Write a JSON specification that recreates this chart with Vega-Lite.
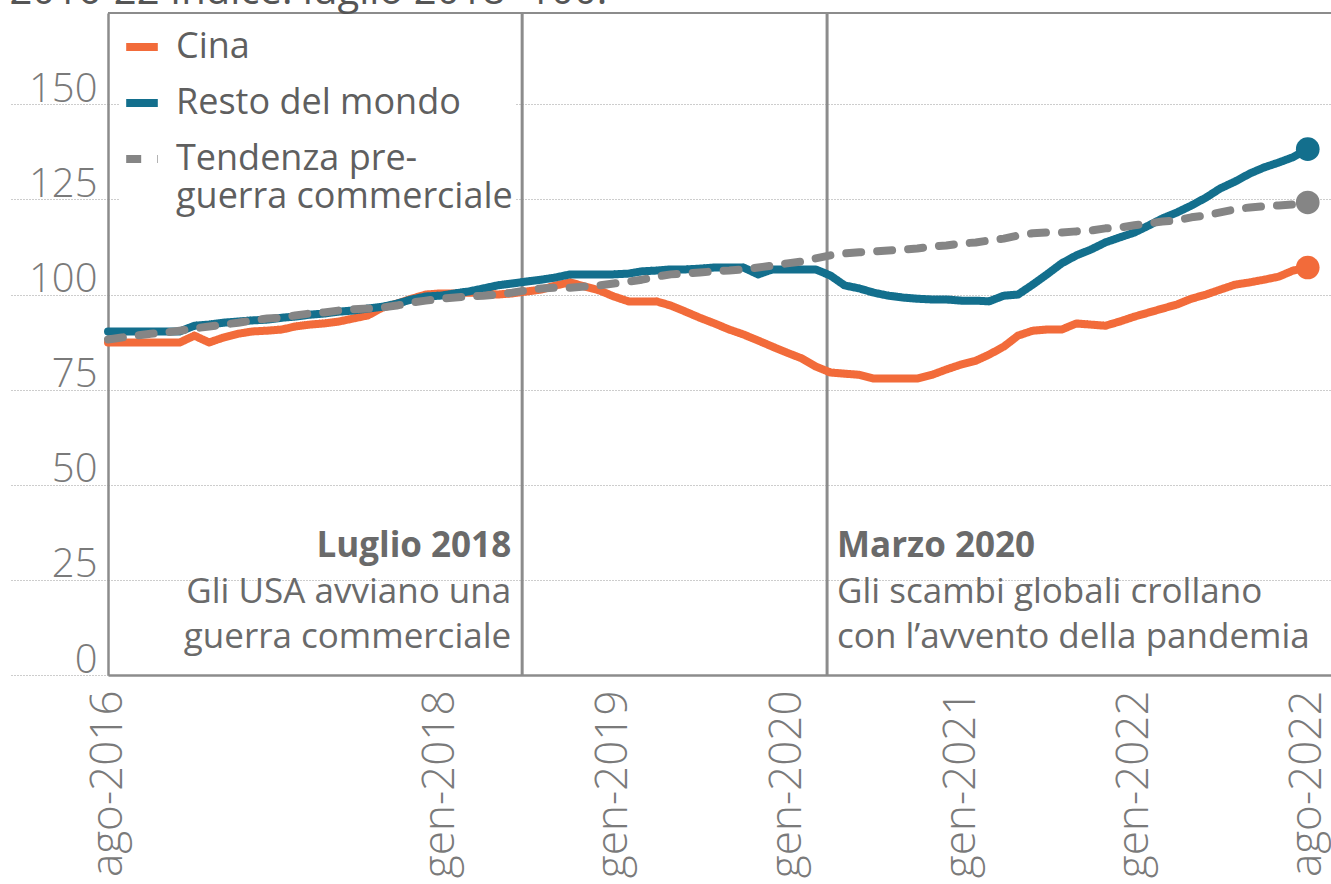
{
  "$schema": "https://vega.github.io/schema/vega-lite/v6.json",
  "width": 1223,
  "height": 662,
  "autosize": "none",
  "padding": {"left": 108, "top": 13, "right": 0, "bottom": 209},
  "background": "white",
  "title": {"text": "2016-22 Indice: luglio 2018=100.", "anchor": "start", "frame": "bounds", "fontSize": 40, "font": "Open Sans", "fontWeight": 400, "color": "#555555", "offset": 0, "dy": 40, "baseline": "bottom"},
  "config": {
    "font": "Open Sans",
    "view": {"stroke": null},
    "axis": {"labelFont": "Open Sans", "labelFontWeight": 300, "labelColor": "#7a7a7a", "labelFontSize": 40, "title": null, "labelLimit": 400}
  },
  "datasets": {
    "eventi": [
      {"d": "2018-06-22", "evento": "Luglio 2018", "testo": "Gli USA avviano una\nguerra commerciale"},
      {"d": "2020-03-25", "evento": "Marzo 2020", "testo": "Gli scambi globali crollano\ncon l’avvento della pandemia"}
    ],
    "serie": [
      {"d": "2016-02-01", "Cina": 87.4, "Resto del mondo": 90.3, "Tendenza pre-guerra commerciale": 88.2},
      {"d": "2016-03-01", "Cina": 87.4, "Resto del mondo": 90.3, "Tendenza pre-guerra commerciale": 88.7},
      {"d": "2016-04-01", "Cina": 87.4, "Resto del mondo": 90.3, "Tendenza pre-guerra commerciale": 89.2},
      {"d": "2016-05-01", "Cina": 87.4, "Resto del mondo": 90.3, "Tendenza pre-guerra commerciale": 89.7},
      {"d": "2016-06-01", "Cina": 87.4, "Resto del mondo": 90.3, "Tendenza pre-guerra commerciale": 90.0},
      {"d": "2016-07-01", "Cina": 87.4, "Resto del mondo": 90.3, "Tendenza pre-guerra commerciale": 90.5},
      {"d": "2016-08-01", "Cina": 89.2, "Resto del mondo": 91.8, "Tendenza pre-guerra commerciale": 91.1},
      {"d": "2016-09-01", "Cina": 87.4, "Resto del mondo": 92.1, "Tendenza pre-guerra commerciale": 91.6},
      {"d": "2016-10-01", "Cina": 88.7, "Resto del mondo": 92.6, "Tendenza pre-guerra commerciale": 92.1},
      {"d": "2016-11-01", "Cina": 89.7, "Resto del mondo": 92.9, "Tendenza pre-guerra commerciale": 92.6},
      {"d": "2016-12-01", "Cina": 90.3, "Resto del mondo": 93.2, "Tendenza pre-guerra commerciale": 93.2},
      {"d": "2017-01-01", "Cina": 90.5, "Resto del mondo": 93.4, "Tendenza pre-guerra commerciale": 93.7},
      {"d": "2017-02-01", "Cina": 90.8, "Resto del mondo": 93.9, "Tendenza pre-guerra commerciale": 93.9},
      {"d": "2017-03-01", "Cina": 91.6, "Resto del mondo": 94.2, "Tendenza pre-guerra commerciale": 94.5},
      {"d": "2017-04-01", "Cina": 92.1, "Resto del mondo": 94.7, "Tendenza pre-guerra commerciale": 95.0},
      {"d": "2017-05-01", "Cina": 92.4, "Resto del mondo": 95.0, "Tendenza pre-guerra commerciale": 95.3},
      {"d": "2017-06-01", "Cina": 92.9, "Resto del mondo": 95.5, "Tendenza pre-guerra commerciale": 95.8},
      {"d": "2017-07-01", "Cina": 93.7, "Resto del mondo": 95.8, "Tendenza pre-guerra commerciale": 96.1},
      {"d": "2017-08-01", "Cina": 94.5, "Resto del mondo": 96.3, "Tendenza pre-guerra commerciale": 96.3},
      {"d": "2017-09-01", "Cina": 96.6, "Resto del mondo": 96.8, "Tendenza pre-guerra commerciale": 96.6},
      {"d": "2017-10-01", "Cina": 97.6, "Resto del mondo": 97.6, "Tendenza pre-guerra commerciale": 97.1},
      {"d": "2017-11-01", "Cina": 98.9, "Resto del mondo": 98.7, "Tendenza pre-guerra commerciale": 97.9},
      {"d": "2017-12-01", "Cina": 100.0, "Resto del mondo": 99.5, "Tendenza pre-guerra commerciale": 98.4},
      {"d": "2018-01-01", "Cina": 100.3, "Resto del mondo": 99.7, "Tendenza pre-guerra commerciale": 98.9},
      {"d": "2018-02-01", "Cina": 100.3, "Resto del mondo": 100.3, "Tendenza pre-guerra commerciale": 99.2},
      {"d": "2018-03-01", "Cina": 100.5, "Resto del mondo": 100.8, "Tendenza pre-guerra commerciale": 99.5},
      {"d": "2018-04-01", "Cina": 100.3, "Resto del mondo": 101.6, "Tendenza pre-guerra commerciale": 99.7},
      {"d": "2018-05-01", "Cina": 100.0, "Resto del mondo": 102.4, "Tendenza pre-guerra commerciale": 100.0},
      {"d": "2018-06-01", "Cina": 100.3, "Resto del mondo": 102.9, "Tendenza pre-guerra commerciale": 100.5},
      {"d": "2018-07-01", "Cina": 100.8, "Resto del mondo": 103.4, "Tendenza pre-guerra commerciale": 101.1},
      {"d": "2018-08-01", "Cina": 101.3, "Resto del mondo": 103.9, "Tendenza pre-guerra commerciale": 101.6},
      {"d": "2018-09-01", "Cina": 102.4, "Resto del mondo": 104.5, "Tendenza pre-guerra commerciale": 101.8},
      {"d": "2018-10-01", "Cina": 103.2, "Resto del mondo": 105.3, "Tendenza pre-guerra commerciale": 101.8},
      {"d": "2018-11-01", "Cina": 102.1, "Resto del mondo": 105.3, "Tendenza pre-guerra commerciale": 102.1},
      {"d": "2018-12-01", "Cina": 101.1, "Resto del mondo": 105.3, "Tendenza pre-guerra commerciale": 102.4},
      {"d": "2019-01-01", "Cina": 99.5, "Resto del mondo": 105.3, "Tendenza pre-guerra commerciale": 102.9},
      {"d": "2019-02-01", "Cina": 98.2, "Resto del mondo": 105.5, "Tendenza pre-guerra commerciale": 103.4},
      {"d": "2019-03-01", "Cina": 98.2, "Resto del mondo": 106.1, "Tendenza pre-guerra commerciale": 103.9},
      {"d": "2019-04-01", "Cina": 98.2, "Resto del mondo": 106.3, "Tendenza pre-guerra commerciale": 104.7},
      {"d": "2019-05-01", "Cina": 97.1, "Resto del mondo": 106.6, "Tendenza pre-guerra commerciale": 105.3},
      {"d": "2019-06-01", "Cina": 95.5, "Resto del mondo": 106.6, "Tendenza pre-guerra commerciale": 105.5},
      {"d": "2019-07-01", "Cina": 93.9, "Resto del mondo": 106.8, "Tendenza pre-guerra commerciale": 105.8},
      {"d": "2019-08-01", "Cina": 92.4, "Resto del mondo": 107.1, "Tendenza pre-guerra commerciale": 106.1},
      {"d": "2019-09-01", "Cina": 90.8, "Resto del mondo": 107.1, "Tendenza pre-guerra commerciale": 106.3},
      {"d": "2019-10-01", "Cina": 89.5, "Resto del mondo": 107.1, "Tendenza pre-guerra commerciale": 106.6},
      {"d": "2019-11-01", "Cina": 87.9, "Resto del mondo": 105.3, "Tendenza pre-guerra commerciale": 107.1},
      {"d": "2019-12-01", "Cina": 86.3, "Resto del mondo": 106.6, "Tendenza pre-guerra commerciale": 107.6},
      {"d": "2020-01-01", "Cina": 84.7, "Resto del mondo": 106.6, "Tendenza pre-guerra commerciale": 108.2},
      {"d": "2020-02-01", "Cina": 83.2, "Resto del mondo": 106.6, "Tendenza pre-guerra commerciale": 108.7},
      {"d": "2020-03-01", "Cina": 81.1, "Resto del mondo": 106.6, "Tendenza pre-guerra commerciale": 109.5},
      {"d": "2020-04-01", "Cina": 79.5, "Resto del mondo": 105.0, "Tendenza pre-guerra commerciale": 110.3},
      {"d": "2020-05-01", "Cina": 79.2, "Resto del mondo": 102.4, "Tendenza pre-guerra commerciale": 110.8},
      {"d": "2020-06-01", "Cina": 78.9, "Resto del mondo": 101.6, "Tendenza pre-guerra commerciale": 111.1},
      {"d": "2020-07-01", "Cina": 77.9, "Resto del mondo": 100.5, "Tendenza pre-guerra commerciale": 111.3},
      {"d": "2020-08-01", "Cina": 77.9, "Resto del mondo": 99.7, "Tendenza pre-guerra commerciale": 111.6},
      {"d": "2020-09-01", "Cina": 77.9, "Resto del mondo": 99.2, "Tendenza pre-guerra commerciale": 111.8},
      {"d": "2020-10-01", "Cina": 77.9, "Resto del mondo": 98.9, "Tendenza pre-guerra commerciale": 112.1},
      {"d": "2020-11-01", "Cina": 78.9, "Resto del mondo": 98.7, "Tendenza pre-guerra commerciale": 112.6},
      {"d": "2020-12-01", "Cina": 80.3, "Resto del mondo": 98.7, "Tendenza pre-guerra commerciale": 112.9},
      {"d": "2021-01-01", "Cina": 81.6, "Resto del mondo": 98.4, "Tendenza pre-guerra commerciale": 113.4},
      {"d": "2021-02-01", "Cina": 82.6, "Resto del mondo": 98.4, "Tendenza pre-guerra commerciale": 113.7},
      {"d": "2021-03-01", "Cina": 84.2, "Resto del mondo": 98.2, "Tendenza pre-guerra commerciale": 114.2},
      {"d": "2021-04-01", "Cina": 86.3, "Resto del mondo": 99.7, "Tendenza pre-guerra commerciale": 114.7},
      {"d": "2021-05-01", "Cina": 89.2, "Resto del mondo": 100.0, "Tendenza pre-guerra commerciale": 115.5},
      {"d": "2021-06-01", "Cina": 90.5, "Resto del mondo": 102.6, "Tendenza pre-guerra commerciale": 116.1},
      {"d": "2021-07-01", "Cina": 90.8, "Resto del mondo": 105.3, "Tendenza pre-guerra commerciale": 116.3},
      {"d": "2021-08-01", "Cina": 90.8, "Resto del mondo": 108.2, "Tendenza pre-guerra commerciale": 116.3},
      {"d": "2021-09-01", "Cina": 92.4, "Resto del mondo": 110.3, "Tendenza pre-guerra commerciale": 116.6},
      {"d": "2021-10-01", "Cina": 92.1, "Resto del mondo": 111.8, "Tendenza pre-guerra commerciale": 116.8},
      {"d": "2021-11-01", "Cina": 91.8, "Resto del mondo": 113.7, "Tendenza pre-guerra commerciale": 117.4},
      {"d": "2021-12-01", "Cina": 92.9, "Resto del mondo": 115.0, "Tendenza pre-guerra commerciale": 117.6},
      {"d": "2022-01-01", "Cina": 94.2, "Resto del mondo": 116.3, "Tendenza pre-guerra commerciale": 118.2},
      {"d": "2022-02-01", "Cina": 95.3, "Resto del mondo": 118.2, "Tendenza pre-guerra commerciale": 118.7},
      {"d": "2022-03-01", "Cina": 96.3, "Resto del mondo": 120.0, "Tendenza pre-guerra commerciale": 119.2},
      {"d": "2022-04-01", "Cina": 97.4, "Resto del mondo": 121.6, "Tendenza pre-guerra commerciale": 119.5},
      {"d": "2022-05-01", "Cina": 98.9, "Resto del mondo": 123.4, "Tendenza pre-guerra commerciale": 120.3},
      {"d": "2022-06-01", "Cina": 100.0, "Resto del mondo": 125.5, "Tendenza pre-guerra commerciale": 120.8},
      {"d": "2022-07-01", "Cina": 101.3, "Resto del mondo": 127.9, "Tendenza pre-guerra commerciale": 121.6},
      {"d": "2022-08-01", "Cina": 102.6, "Resto del mondo": 129.7, "Tendenza pre-guerra commerciale": 122.4},
      {"d": "2022-09-01", "Cina": 103.2, "Resto del mondo": 131.8, "Tendenza pre-guerra commerciale": 122.9},
      {"d": "2022-10-01", "Cina": 103.9, "Resto del mondo": 133.4, "Tendenza pre-guerra commerciale": 123.2},
      {"d": "2022-11-01", "Cina": 104.7, "Resto del mondo": 134.7, "Tendenza pre-guerra commerciale": 123.4},
      {"d": "2022-12-01", "Cina": 106.3, "Resto del mondo": 136.1, "Tendenza pre-guerra commerciale": 123.7},
      {"d": "2023-01-01", "Cina": 107.1, "Resto del mondo": 138.2, "Tendenza pre-guerra commerciale": 124.2}
    ]
  },
  "data": {"name": "serie"},
  "transform": [
    {"fold": ["Cina", "Resto del mondo", "Tendenza pre-guerra commerciale"], "as": ["serie", "valore"]}
  ],
  "layer": [
    {
      "data": {"values": [{}]},
      "mark": {"type": "rule", "color": "#8c8c8c", "strokeWidth": 2},
      "encoding": {"y": {"datum": 174, "type": "quantitative"}}
    },
    {
      "data": {"name": "eventi"},
      "mark": {"type": "rule", "color": "#8c8c8c", "strokeWidth": 3},
      "encoding": {
        "x": {"field": "d", "type": "temporal"}
      }
    },
    {
      "mark": {"type": "line", "strokeWidth": 8, "strokeCap": "round", "strokeJoin": "round"},
      "encoding": {
        "x": {
          "field": "d", "type": "temporal",
          "scale": {"domain": [{"year": 2016, "month": 2, "date": 1, "utc": true}, {"year": 2023, "month": 2, "date": 19, "utc": true}]},
          "axis": {
            "values": [
              {"year": 2016, "month": 2, "date": 1, "utc": true},
              {"year": 2018, "month": 1, "date": 1, "utc": true},
              {"year": 2019, "month": 1, "date": 1, "utc": true},
              {"year": 2020, "month": 1, "date": 1, "utc": true},
              {"year": 2021, "month": 1, "date": 1, "utc": true},
              {"year": 2022, "month": 1, "date": 1, "utc": true},
              {"year": 2023, "month": 1, "date": 1, "utc": true}
            ],
            "labelExpr": "utcyear(datum.value) == 2016 ? 'ago-2016' : utcyear(datum.value) == 2023 ? 'ago-2022' : 'gen-' + utcyear(datum.value)",
            "labelAngle": -90,
            "labelAlign": "right",
            "labelBaseline": "middle",
            "labelPadding": 15,
            "labelFontSize": 44,
            "labelLimit": 400,
            "labelOverlap": false,
            "labelFlush": false,
            "grid": false,
            "ticks": false,
            "domainColor": "#8c8c8c",
            "domainWidth": 2.5,
            "title": null
          }
        },
        "y": {
          "field": "valore", "type": "quantitative",
          "scale": {"domain": [0, 174], "nice": false},
          "axis": {
            "values": [0, 25, 50, 75, 100, 125, 150],
            "grid": true, "gridDash": [1, 2], "gridColor": "#9a9a9a", "gridWidth": 1,
            "ticks": true, "tickSize": 98, "tickDash": [1, 2], "tickColor": "#9a9a9a", "tickWidth": 1,
            "labelPadding": -87, "labelBaseline": "alphabetic", "labelOffset": -3,
            "labelOverlap": false, "labelFlush": false,
            "domain": true, "domainColor": "#8c8c8c", "domainWidth": 2.5,
            "title": null
          }
        },
        "color": {
          "field": "serie", "type": "nominal",
          "scale": {"domain": ["Cina", "Resto del mondo", "Tendenza pre-guerra commerciale"], "range": ["#F26B3A", "#136F8D", "#858585"]},
          "legend": {
            "title": null, "orient": "top-left", "offset": 12,
            "symbolType": "stroke", "symbolStrokeWidth": 8, "symbolSize": 1000,
            "labelFontSize": 36, "labelFont": "Open Sans", "labelColor": "#5f5f5f", "labelFontWeight": 400,
            "rowPadding": 18, "labelOffset": 14, "fillColor": "white", "padding": 2, "labelLimit": 700,
            "labelExpr": "datum.label == 'Tendenza pre-guerra commerciale' ? ['Tendenza pre-', 'guerra commerciale'] : datum.label"
          }
        },
        "strokeDash": {
          "field": "serie", "type": "nominal",
          "scale": {"domain": ["Cina", "Resto del mondo", "Tendenza pre-guerra commerciale"], "range": [[1, 0], [1, 0], [15, 16]]},
          "legend": {
            "title": null, "orient": "top-left", "offset": 12,
            "symbolType": "stroke", "symbolStrokeWidth": 8, "symbolSize": 1000,
            "labelFontSize": 36, "labelFont": "Open Sans", "labelColor": "#5f5f5f", "labelFontWeight": 400,
            "rowPadding": 18, "labelOffset": 14, "fillColor": "white", "padding": 2, "labelLimit": 700,
            "labelExpr": "datum.label == 'Tendenza pre-guerra commerciale' ? ['Tendenza pre-', 'guerra commerciale'] : datum.label"
          }
        }
      }
    },
    {
      "transform": [{"filter": "utcyear(datum.d) == 2023"}],
      "mark": {"type": "point", "filled": true, "opacity": 1, "size": 560},
      "encoding": {
        "x": {"field": "d", "type": "temporal"},
        "y": {"field": "valore", "type": "quantitative"},
        "color": {"field": "serie", "type": "nominal", "legend": null}
      }
    },
    {
      "data": {"name": "eventi"},
      "transform": [{"filter": "datum.evento == 'Luglio 2018'"}],
      "mark": {"type": "text", "align": "right", "dx": -11, "fontWeight": 700, "fontSize": 35, "color": "#6a6a6a", "baseline": "alphabetic", "font": "Open Sans"},
      "encoding": {"x": {"field": "d", "type": "temporal"}, "y": {"datum": 31, "type": "quantitative"}, "text": {"field": "evento"}}
    },
    {
      "data": {"name": "eventi"},
      "transform": [{"filter": "datum.evento == 'Luglio 2018'"}],
      "mark": {"type": "text", "align": "right", "dx": -11, "fontWeight": 400, "fontSize": 35, "color": "#6a6a6a", "baseline": "alphabetic", "lineBreak": "\n", "lineHeight": 45, "font": "Open Sans"},
      "encoding": {"x": {"field": "d", "type": "temporal"}, "y": {"datum": 19, "type": "quantitative"}, "text": {"field": "testo"}}
    },
    {
      "data": {"name": "eventi"},
      "transform": [{"filter": "datum.evento == 'Marzo 2020'"}],
      "mark": {"type": "text", "align": "left", "dx": 10, "fontWeight": 700, "fontSize": 35, "color": "#6a6a6a", "baseline": "alphabetic", "font": "Open Sans"},
      "encoding": {"x": {"field": "d", "type": "temporal"}, "y": {"datum": 31, "type": "quantitative"}, "text": {"field": "evento"}}
    },
    {
      "data": {"name": "eventi"},
      "transform": [{"filter": "datum.evento == 'Marzo 2020'"}],
      "mark": {"type": "text", "align": "left", "dx": 10, "fontWeight": 400, "fontSize": 35, "color": "#6a6a6a", "baseline": "alphabetic", "lineBreak": "\n", "lineHeight": 45, "font": "Open Sans"},
      "encoding": {"x": {"field": "d", "type": "temporal"}, "y": {"datum": 19, "type": "quantitative"}, "text": {"field": "testo"}}
    }
  ]
}
